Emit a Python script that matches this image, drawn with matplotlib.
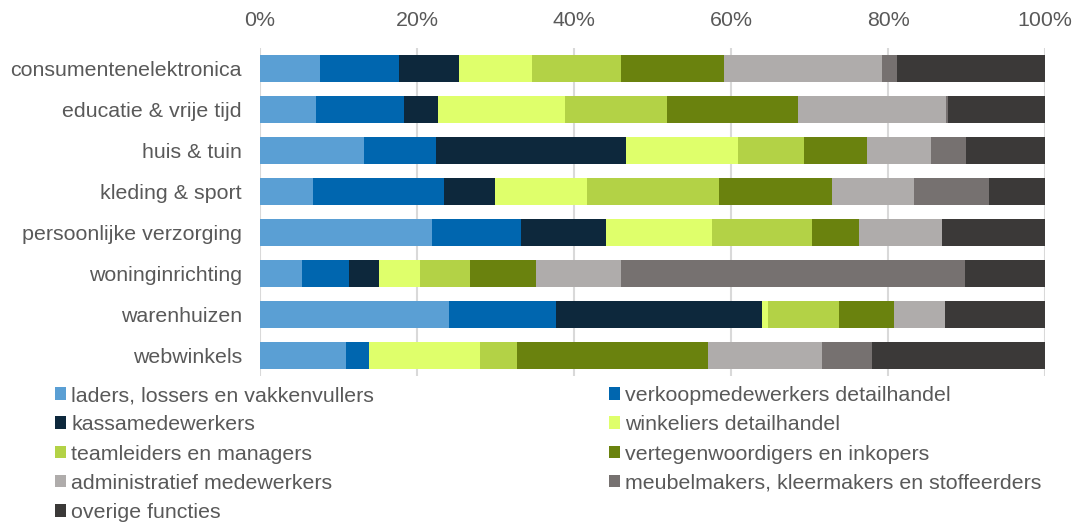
import numpy as np
import matplotlib.pyplot as plt
from matplotlib.patches import Patch
from matplotlib.ticker import PercentFormatter

plt.rcParams['font.family'] = ['Liberation Sans', 'DejaVu Sans']

# --- data (percentage share per sector) ---
sectors = ['consumentenelektronica', 'educatie & vrije tijd', 'huis & tuin',
           'kleding & sport', 'persoonlijke verzorging', 'woninginrichting',
           'warenhuizen', 'webwinkels']

functions = ['laders, lossers en vakkenvullers', 'verkoopmedewerkers detailhandel',
             'kassamedewerkers', 'winkeliers detailhandel',
             'teamleiders en managers', 'vertegenwoordigers en inkopers',
             'administratief medewerkers', 'meubelmakers, kleermakers en stoffeerders',
             'overige functies']

laders      = [7.6, 7.1, 13.2, 6.7, 21.9, 5.4, 24.1, 11.0]
verkoop     = [10.1, 11.3, 9.2, 16.8, 11.4, 6.0, 13.6, 2.9]
kassa       = [7.6, 4.3, 24.2, 6.4, 10.8, 3.8, 26.2, 0.0]
winkeliers  = [9.4, 16.2, 14.3, 11.8, 13.5, 5.2, 0.8, 14.1]
teamleiders = [11.3, 12.9, 8.4, 16.8, 12.7, 6.3, 9.1, 4.7]
vertegenw   = [13.1, 16.7, 8.0, 14.4, 6.0, 8.5, 7.0, 24.4]
administr   = [20.1, 18.9, 8.2, 10.4, 10.6, 10.8, 6.5, 14.5]
meubel      = [2.0, 0.2, 4.4, 9.6, 0.0, 43.8, 0.0, 6.3]
overige     = [18.8, 12.4, 10.1, 7.1, 13.1, 10.2, 12.7, 22.1]

series = [laders, verkoop, kassa, winkeliers, teamleiders, vertegenw,
          administr, meubel, overige]

colors = ['#5A9FD4', '#0066AF', '#0D283C', '#DFFF6B', '#B3D246', '#6A820E',
          '#AFACAB', '#767170', '#3B3938']

TEXT = '#595959'
GRID = '#D9D9D9'
FS = 15.4

fig = plt.figure(figsize=(10.75, 5.23), dpi=100)
ax = fig.add_axes([260 / 1075, 1 - 376 / 523, 785 / 1075, 328 / 523])

y = np.arange(len(sectors))
left = np.zeros(len(sectors))
for vals, col, name in zip(series, colors, functions):
    vals = np.array(vals)
    ax.barh(y, vals, left=left, height=0.66, color=col, label=name, zorder=3)
    left += vals

ax.set_xlim(0, 100)
ax.set_ylim(len(sectors) - 0.5, -0.5)
ax.set_yticks(y)
ax.set_yticklabels(sectors)
ax.set_xticks(np.arange(0, 101, 20))
ax.xaxis.set_major_formatter(PercentFormatter(decimals=0))
ax.xaxis.tick_top()
ax.tick_params(axis='both', length=0, labelsize=FS, colors=TEXT)
ax.tick_params(axis='x', pad=13)
ax.tick_params(axis='y', pad=13)
ax.grid(axis='x', color=GRID, linewidth=1.5, zorder=0)
for s in ax.spines.values():
    s.set_visible(False)

# legend is filled row by row in the reference, matplotlib fills by column
handles = [Patch(facecolor=c, label=n) for c, n in zip(colors, functions)]
order = [0, 2, 4, 6, 8, 1, 3, 5, 7]
fig.legend(handles=[handles[i] for i in order], ncol=2, loc='upper left',
           bbox_to_anchor=(55 / 1075, 1 - 386 / 523), frameon=False,
           fontsize=FS, labelcolor=TEXT, handlelength=0.52, handleheight=0.52,
           handletextpad=0.25, labelspacing=0.48, columnspacing=10.97,
           borderaxespad=0, borderpad=0)

fig.savefig('out.png', dpi=100, facecolor='white')
